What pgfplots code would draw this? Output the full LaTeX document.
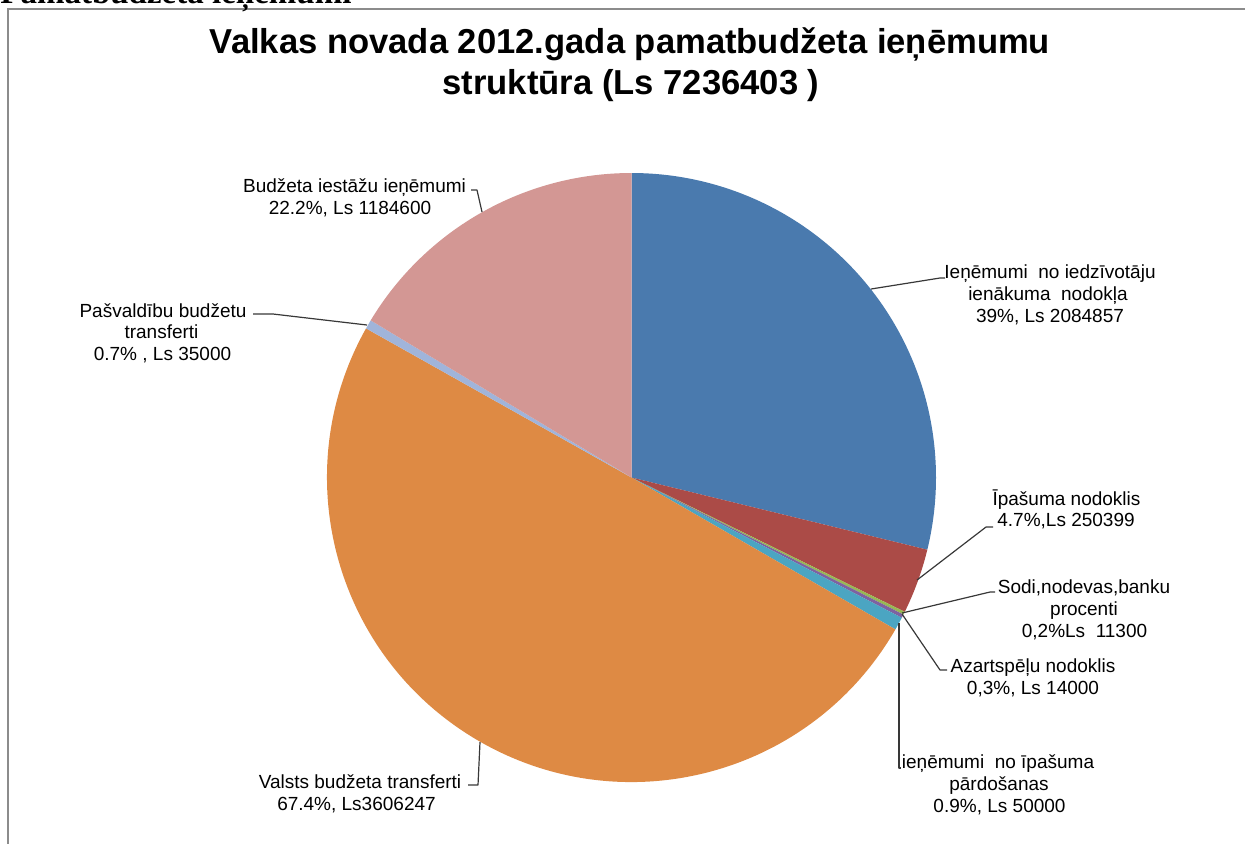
\documentclass[border=0pt]{standalone}
\usepackage{pgfplots}
\pgfplotsset{compat=1.18}
\usepackage{pgfplotstable}
\usepackage{fontspec}
\setmainfont{Liberation Sans}
\newfontfamily\serifmain{Liberation Serif}

\definecolor{slice0}{HTML}{4A7AAE}
\definecolor{slice1}{HTML}{AB4B47}
\definecolor{slice2}{HTML}{98B954}
\definecolor{slice3}{HTML}{7E62A1}
\definecolor{slice4}{HTML}{4BA5C2}
\definecolor{slice5}{HTML}{DE8A44}
\definecolor{slice6}{HTML}{A0B4DA}
\definecolor{slice7}{HTML}{D39794}
\definecolor{framegray}{HTML}{8C8C8C}

\pgfplotstableread[col sep=comma]{
name,value
iedzivotaju,2084857
ipasuma,250399
sodi,11300
azartspelu,14000
pardosana,50000
valsts,3606247
pasvaldibu,35000
budzeta,1184600
}\piedata

\begin{document}
\begin{tikzpicture}[
  leader/.style={draw=black!78, line width=0.6pt, line join=round},
  lab/.style={anchor=base, inner sep=0pt, font=\fontsize{9.5}{11}\selectfont, text=black},
]
% total and slice angles (clockwise from 12 o'clock)
\gdef\total{0}
\foreach \i in {0,...,7}{%
  \pgfplotstablegetelem{\i}{value}\of\piedata
  \xdef\total{\fpeval{\total+\pgfplotsretval}}%
}
\gdef\cum{0}
\foreach \i in {0,...,7}{%
  \pgfplotstablegetelem{\i}{value}\of\piedata
  \expandafter\xdef\csname sa\i\endcsname{\fpeval{round(90-360*\cum/\total,4)}}%
  \xdef\cum{\fpeval{\cum+\pgfplotsretval}}%
  \expandafter\xdef\csname ea\i\endcsname{\fpeval{round(90-360*\cum/\total,4)}}%
}
\def\R{152.25pt}
\begin{axis}[name=ax,
  width=622.5pt, height=421.5pt, scale only axis,
  xmin=0, xmax=1245, ymin=0, ymax=843, y dir=reverse,
  axis lines=none, ticks=none, clip=false,
]
\addplot[draw=none] coordinates {(0,0) (1245,843)};
\pgfplotsinvokeforeach{0,...,7}{%
  \fill[slice#1] (axis cs:631.5,477.5) -- ++(\csname sa#1\endcsname:\R)
     arc[start angle=\csname sa#1\endcsname, end angle=\csname ea#1\endcsname, radius=\R] -- cycle;
}
% frame
\draw[framegray, line width=0.9pt] (axis cs:8,860) -- (axis cs:8,9) -- (axis cs:1260,9);
% cut-off heading
\node[anchor=base west, inner sep=0pt, font=\serifmain\bfseries\fontsize{16.5}{18}\selectfont] at (axis cs:0,3) {Pamatbudžeta ieņēmumi};
% title
\node[anchor=base, inner sep=0pt, font=\bfseries\fontsize{17.3}{20}\selectfont] at (axis cs:630,53) {Valkas novada 2012.gada pamatbudžeta ieņēmumu};
\node[anchor=base, inner sep=0pt, font=\bfseries\fontsize{17.3}{20}\selectfont] at (axis cs:631,94) {struktūra (Ls 7236403 )};
% leader lines
\draw[leader] (axis cs:471,190) -- (axis cs:477,190) -- (axis cs:482,212);
\draw[leader] (axis cs:253,314) -- (axis cs:273,314) -- (axis cs:367,325);
\draw[leader] (axis cs:871,289) -- (axis cs:940,278) -- (axis cs:945,278);
\draw[leader] (axis cs:917,580) -- (axis cs:986,527) -- (axis cs:993,527);
\draw[leader] (axis cs:902,613) -- (axis cs:990,592) -- (axis cs:995,592);
\draw[leader] (axis cs:902,614) -- (axis cs:940,670) -- (axis cs:947,670);
\draw[leader] (axis cs:899,623) -- (axis cs:899,768) -- (axis cs:901,768);
\draw[leader] (axis cs:480,742) -- (axis cs:478,785) -- (axis cs:468,785);
% labels
\node[lab] at (axis cs:354.5,192) {Budžeta iestāžu ieņēmumi};
\node[lab] at (axis cs:350,214) {22.2\%, Ls 1184600};
\node[lab] at (axis cs:163,317) {Pašvaldību budžetu};
\node[lab] at (axis cs:161.5,338) {transferti};
\node[lab] at (axis cs:162.5,360) {0.7\% , Ls 35000};
\node[lab] at (axis cs:1050,278) {Ieņēmumi\ \ no iedzīvotāju};
\node[lab] at (axis cs:1048,300) {ienākuma\ \ nodokļa};
\node[lab] at (axis cs:1050,322) {39\%, Ls 2084857};
\node[lab] at (axis cs:1066.5,505) {Īpašuma nodoklis};
\node[lab] at (axis cs:1066,526) {4.7\%,Ls 250399};
\node[lab] at (axis cs:1084,593) {Sodi,nodevas,banku};
\node[lab] at (axis cs:1084,615) {procenti};
\node[lab] at (axis cs:1084.5,637) {0,2\%Ls\ \ 11300};
\node[lab] at (axis cs:1033,672) {Azartspēļu nodoklis};
\node[lab] at (axis cs:1033,694) {0,3\%, Ls 14000};
\node[lab] at (axis cs:998,768) {ieņēmumi\ \ no īpašuma};
\node[lab] at (axis cs:999,790) {pārdošanas};
\node[lab] at (axis cs:999.5,812) {0.9\%, Ls 50000};
\node[lab] at (axis cs:360,788) {Valsts budžeta transferti};
\node[lab] at (axis cs:356.5,810) {67.4\%, Ls3606247};
\end{axis}
\pgfresetboundingbox
\path[use as bounding box] (ax.south west) rectangle (ax.north east);
\end{tikzpicture}
\end{document}
